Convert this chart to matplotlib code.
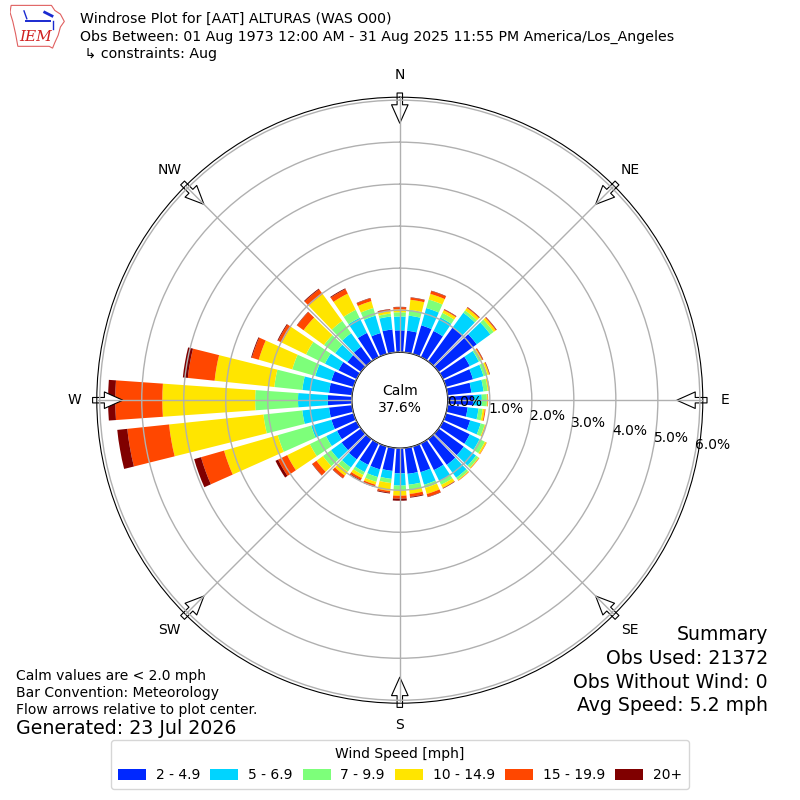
import numpy as np
import matplotlib
matplotlib.use("Agg")
import matplotlib.pyplot as plt
from matplotlib.patches import Patch, Polygon

# wind direction bins (degrees, from) and frequency [%] per speed bin
directions = np.arange(0, 360, 10)
speed_labels = ["2 - 4.9", "5 - 6.9", "7 - 9.9", "10 - 14.9", "15 - 19.9", "20+"]
speed_colors = ["#0028ff", "#00d4ff", "#7dff7a", "#ffe500", "#ff4700", "#800000"]

pct_2_5 = [0.52, 0.52, 0.71, 0.69, 1.00, 1.12, 0.71, 0.67, 0.57, 0.60, 0.48, 0.60,
           0.71, 0.74, 0.76, 0.71, 0.64, 0.62, 0.60, 0.55, 0.57, 0.57, 0.60, 0.57,
           0.52, 0.55, 0.55, 0.57, 0.55, 0.55, 0.48, 0.40, 0.43, 0.64, 0.52, 0.55]
pct_5_7 = [0.33, 0.36, 0.43, 0.36, 0.43, 0.40, 0.24, 0.26, 0.29, 0.21, 0.26, 0.26,
           0.26, 0.36, 0.38, 0.29, 0.31, 0.26, 0.29, 0.19, 0.19, 0.19, 0.24, 0.31,
           0.29, 0.50, 0.64, 0.71, 0.64, 0.40, 0.36, 0.36, 0.40, 0.40, 0.43, 0.31]
pct_7_10 = [0.10, 0.14, 0.21, 0.12, 0.07, 0.10, 0.07, 0.10, 0.10, 0.12, 0.10, 0.10,
            0.14, 0.07, 0.06, 0.10, 0.08, 0.12, 0.12, 0.10, 0.12, 0.08, 0.12, 0.24,
            0.43, 0.83, 0.93, 1.02, 0.67, 0.57, 0.50, 0.33, 0.36, 0.21, 0.19, 0.07]
pct_10_15 = [0.07, 0.24, 0.14, 0.07, 0.07, 0.06, 0.02, 0.04, 0.04, 0.02, 0.05, 0.02,
             0.04, 0.02, 0.02, 0.08, 0.15, 0.10, 0.12, 0.19, 0.07, 0.08, 0.12, 0.19,
             0.60, 1.33, 2.26, 2.21, 1.43, 0.83, 0.64, 0.60, 0.79, 0.43, 0.17, 0.06]
pct_15_20 = [0.05, 0.05, 0.07, 0.02, 0.02, 0.02, 0.02, 0.01, 0.01, 0.01, 0.02, 0.01,
             0.01, 0.01, 0.01, 0.01, 0.07, 0.07, 0.07, 0.04, 0.05, 0.05, 0.07, 0.12,
             0.24, 0.57, 1.00, 1.12, 0.64, 0.17, 0.10, 0.19, 0.14, 0.12, 0.07, 0.04]
pct_20_up = [0.01, 0.01, 0.01, 0.01, 0.01, 0.01, 0.01, 0.01, 0.00, 0.00, 0.00, 0.00,
             0.00, 0.00, 0.00, 0.01, 0.01, 0.02, 0.05, 0.02, 0.01, 0.02, 0.01, 0.01,
             0.07, 0.17, 0.24, 0.17, 0.12, 0.02, 0.02, 0.01, 0.02, 0.02, 0.01, 0.01]

calm_pct = 37.6
obs_used = 21372
obs_no_wind = 0
avg_speed = 5.2

compass_deg = [0, 45, 90, 135, 180, 225, 270, 315]
compass_names = ["N", "NE", "E", "SE", "S", "SW", "W", "NW"]
ring_values = [0, 1, 2, 3, 4, 5, 6]

fig = plt.figure(figsize=(8, 8), dpi=100)
ax = fig.add_axes([0.121, 0.121, 0.7575, 0.7575], projection="polar")
ax.set_theta_zero_location("N")
ax.set_theta_direction(-1)

theta = np.deg2rad(directions)
width = np.deg2rad(10) * 0.8
series = [pct_2_5, pct_5_7, pct_7_10, pct_10_15, pct_15_20, pct_20_up]
bottom = np.zeros(len(directions))
for vals, color in zip(series, speed_colors):
    vals = np.array(vals)
    ax.bar(theta, vals, width=width, bottom=bottom, color=color,
           edgecolor="none", zorder=1)
    bottom = bottom + vals

ax.set_ylim(0, 6.07)
ax.set_rorigin(-1.143)
ax.set_axisbelow(False)
ax.grid(True, color="#b0b0b0", linewidth=1.0, zorder=2.5)
ax.set_thetagrids(compass_deg, labels=[""] * len(compass_deg))
ax.set_rgrids(ring_values, labels=[f"{v:.1f}%" for v in ring_values], angle=100)
ax.tick_params(axis="y", labelsize=10)
for lab in ax.get_yticklabels():
    lab.set_ha("left")
    lab.set_va("bottom")
ax.spines["inner"].set_color("black")
ax.spines["inner"].set_linewidth(1.0)

# compass labels and flow arrows (pointing to the plot center)
for deg, name in zip(compass_deg, compass_names):
    t = np.deg2rad(deg)
    ax.text(t, 6.6, name, ha="center", va="center", fontsize=10)
    ax.annotate("", xy=(t, 5.45), xytext=(t, 6.17),
                arrowprops=dict(arrowstyle="simple,head_length=0.95,head_width=0.85,tail_width=0.28",
                                mutation_scale=14, fc="white", ec="black", lw=0.8,
                                shrinkA=0, shrinkB=0),
                annotation_clip=False, zorder=2)

ax.text(0.5, 0.501, f"Calm\n{calm_pct:.1f}%", transform=ax.transAxes,
        ha="center", va="center", fontsize=10, zorder=5)

# header
fig.text(0.1, 0.976, "Windrose Plot for [AAT] ALTURAS (WAS O00)", fontsize=10.2, va="center")
fig.text(0.1, 0.954, "Obs Between: 01 Aug 1973 12:00 AM - 31 Aug 2025 11:55 PM America/Los_Angeles",
         fontsize=10.2, va="center")
fig.text(0.1, 0.9325, " \u21b3 constraints: Aug", fontsize=10.2, va="center")

# IEM logo (rough)
lax = fig.add_axes([10 / 800, 1 - 50 / 800, 56 / 800, 46 / 800])
lax.set_xlim(0, 1)
lax.set_ylim(0, 1)
lax.axis("off")
iowa = [(0.02, 0.97), (0.74, 0.97), (0.80, 0.86), (0.90, 0.78), (0.97, 0.62),
        (0.90, 0.50), (0.86, 0.32), (0.80, 0.16), (0.76, 0.04), (0.70, 0.08),
        (0.14, 0.08), (0.10, 0.35), (0.05, 0.62), (0.0, 0.82)]
lax.add_patch(Polygon(iowa, closed=True, fill=False, ec="#e06060", lw=0.8))
lax.plot([0.28, 0.72], [0.62, 0.62], color="#1a2ad0", lw=1.4)
lax.plot([0.25, 0.3], [0.85, 0.68], color="#1a2ad0", lw=1)
lax.plot([0.62, 0.75], [0.82, 0.74], color="#1a2ad0", lw=2)
lax.plot([0.77, 0.77], [0.62, 0.45], color="#1a2ad0", lw=1)
lax.text(0.45, 0.28, "IEM", color="#d02020", fontsize=11, family="DejaVu Serif",
         style="italic", ha="center", va="center")

# footnotes
fig.text(0.02, 1 - 676 / 800, "Calm values are < 2.0 mph", fontsize=10, va="center")
fig.text(0.02, 1 - 693 / 800, "Bar Convention: Meteorology", fontsize=10, va="center")
fig.text(0.02, 1 - 710 / 800, "Flow arrows relative to plot center.", fontsize=10, va="center")
fig.text(0.02, 1 - 729 / 800, "Generated: 23 Jul 2026", fontsize=13.7, va="center")

summary = ["Summary", f"Obs Used: {obs_used}", f"Obs Without Wind: {obs_no_wind}",
           f"Avg Speed: {avg_speed:.1f} mph"]
for i, line in enumerate(summary):
    fig.text(0.96, 1 - (635 + 23.5 * i) / 800, line, fontsize=13.6, ha="right", va="center")

handles = [Patch(facecolor=c, edgecolor="none") for c in speed_colors]
fig.legend(handles, speed_labels, loc="lower center", bbox_to_anchor=(0.5, 0.005),
           ncol=6, title="Wind Speed [mph]", fontsize=10, title_fontsize=10,
           handleheight=0.8, handletextpad=0.7, columnspacing=0.75, borderpad=0.5)

fig.savefig("out.png", dpi=100)
